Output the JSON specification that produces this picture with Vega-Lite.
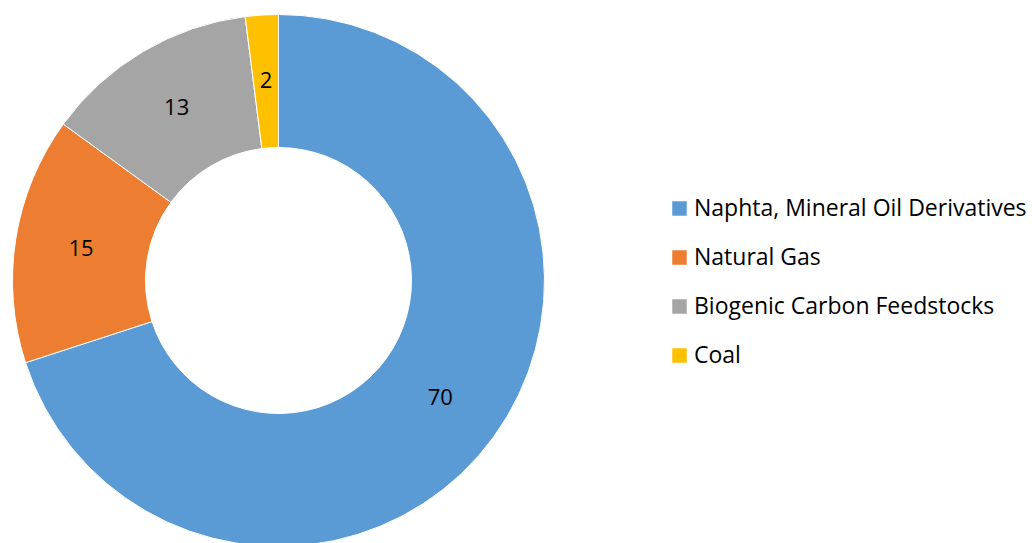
{
  "$schema": "https://vega.github.io/schema/vega-lite/v6.json",
  "width": 557,
  "height": 561,
  "autosize": {"type": "none"},
  "padding": {"left": 0, "top": 0, "right": 475, "bottom": 0},
  "background": "white",
  "config": {"view": {"stroke": null}, "font": "Open Sans"},
  "data": {
    "values": [
      {"source": "Naphta, Mineral Oil Derivatives", "value": 70, "order": 1},
      {"source": "Natural Gas", "value": 15, "order": 2},
      {"source": "Biogenic Carbon Feedstocks", "value": 13, "order": 3},
      {"source": "Coal", "value": 2, "order": 4}
    ]
  },
  "encoding": {
    "theta": {"field": "value", "type": "quantitative", "stack": true},
    "order": {"field": "order", "type": "quantitative"},
    "color": {
      "field": "source",
      "type": "nominal",
      "sort": ["Naphta, Mineral Oil Derivatives", "Natural Gas", "Biogenic Carbon Feedstocks", "Coal"],
      "scale": {
        "domain": ["Naphta, Mineral Oil Derivatives", "Natural Gas", "Biogenic Carbon Feedstocks", "Coal"],
        "range": ["#5B9BD5", "#ED7D31", "#A5A5A5", "#FFC000"]
      },
      "legend": {
        "title": null,
        "orient": "none",
        "legendX": 668,
        "legendY": 197,
        "padding": 0,
        "symbolType": "square",
        "symbolSize": 210,
        "symbolStrokeWidth": 0,
        "labelFontSize": 23,
        "labelFont": "Open Sans",
        "labelColor": "#000000",
        "labelOffset": 3,
        "labelLimit": 400,
        "rowPadding": 25
      }
    }
  },
  "layer": [
    {
      "mark": {"type": "arc", "outerRadius": 266, "innerRadius": 133, "stroke": "white", "strokeWidth": 1}
    },
    {
      "mark": {"type": "text", "radius": 200, "fontSize": 22, "font": "Open Sans", "color": "#000000"},
      "encoding": {
        "text": {"field": "value", "type": "quantitative"},
        "color": {"value": "#000000"}
      }
    }
  ]
}
